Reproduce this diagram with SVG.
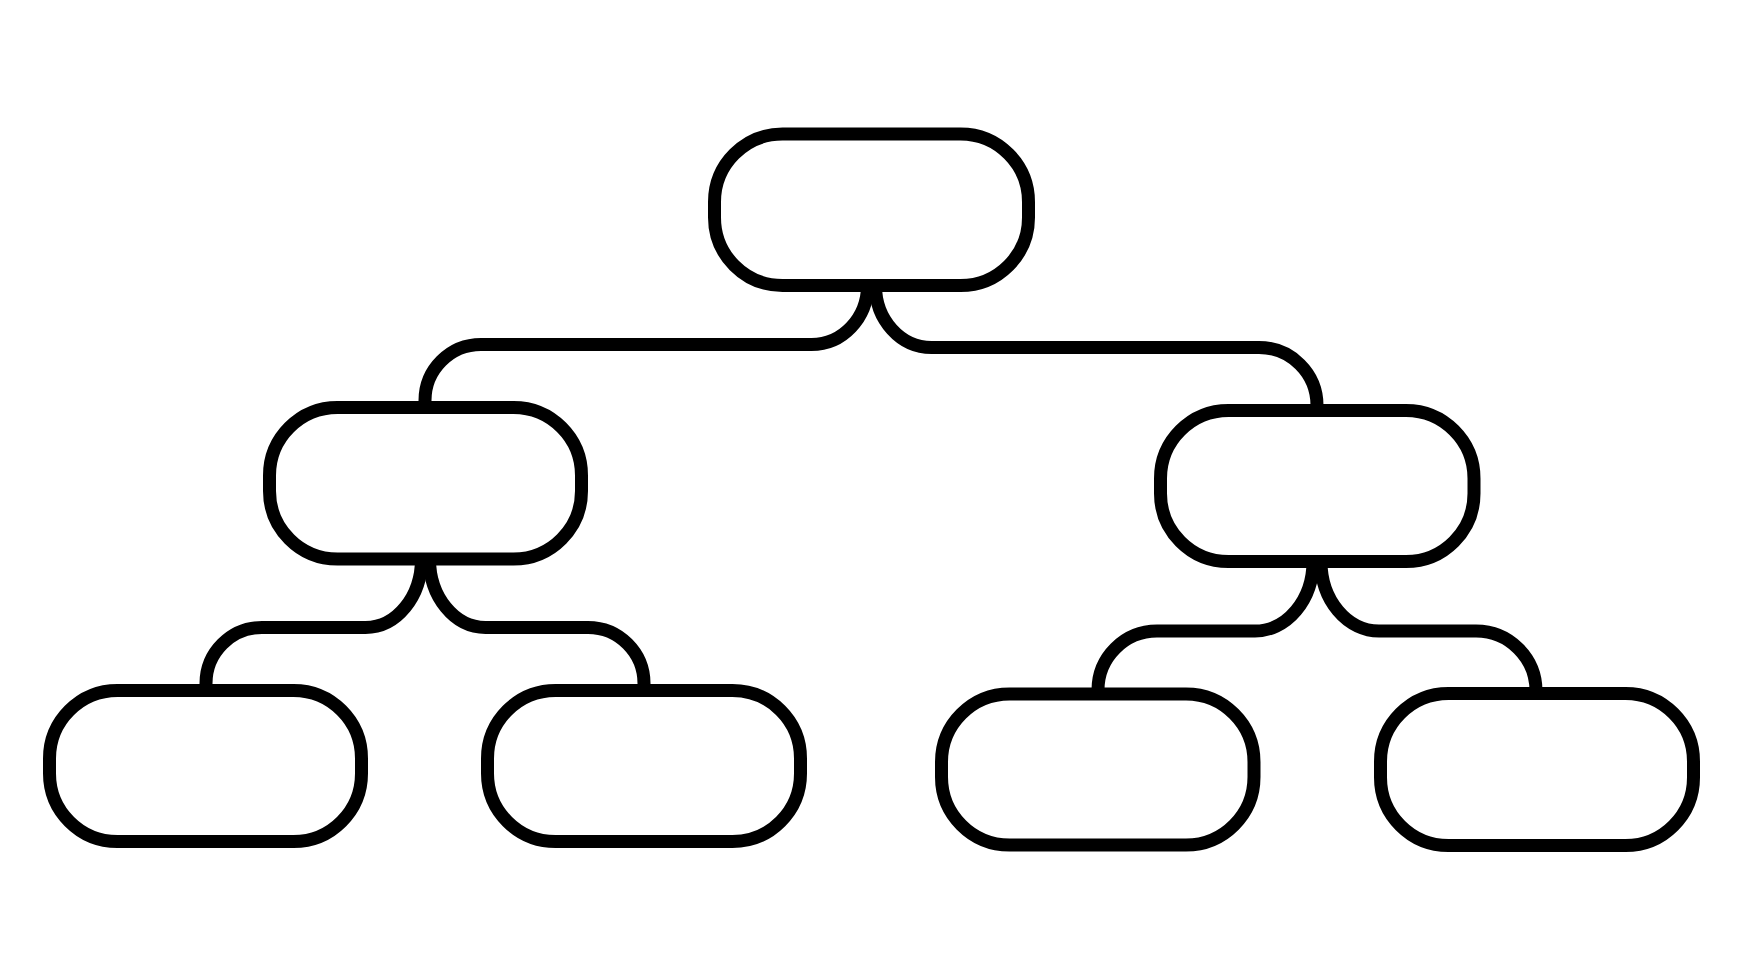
<svg xmlns="http://www.w3.org/2000/svg" width="1742" height="980" viewBox="0 0 1742 980">
<style>
.node{fill:none;stroke:#000;stroke-width:13}
.conn{fill:none;stroke:#000;stroke-width:13;stroke-linecap:butt;stroke-linejoin:round}
</style>
<rect width="1742" height="980" fill="#fff"/>
<g id="connectors">
<path class="conn" d="M867.5 285.5 A56 59 0 0 1 811.5 344.5 H481 A56 56 0 0 0 425 400.5 V407.5"/>
<path class="conn" d="M875.5 285.5 A56 62 0 0 0 931.5 347.5 H1259 A58 58 0 0 1 1317 405.5 V410.5"/>
<path class="conn" d="M421.5 559 A56 68.5 0 0 1 365.5 627.5 H262 A56 56 0 0 0 206 683.5 V690.5"/>
<path class="conn" d="M429.5 559 A56 68.5 0 0 0 485.5 627.5 H588 A56 56 0 0 1 644 683.5 V690.5"/>
<path class="conn" d="M1313 561.5 A58 69.5 0 0 1 1255 631 H1157 A59 59 0 0 0 1098 690 V694"/>
<path class="conn" d="M1321 561.5 A58 69.5 0 0 0 1379 631 H1476 A60 60 0 0 1 1536 691 V693.5"/>
</g>
<g id="root"><rect class="node" x="714.5" y="134" width="314" height="151.5" rx="68"/></g>
<g id="level2-left"><rect class="node" x="269.5" y="407.5" width="312" height="151.5" rx="68"/></g>
<g id="level2-right"><rect class="node" x="1160.5" y="410.5" width="313.5" height="151" rx="68"/></g>
<g id="leaf-1"><rect class="node" x="49.5" y="690.5" width="312" height="151" rx="68"/></g>
<g id="leaf-2"><rect class="node" x="487.5" y="690.5" width="313" height="151" rx="68"/></g>
<g id="leaf-3"><rect class="node" x="941.5" y="694" width="312.5" height="151" rx="68"/></g>
<g id="leaf-4"><rect class="node" x="1380.5" y="693.5" width="313" height="152" rx="68"/></g>
</svg>
